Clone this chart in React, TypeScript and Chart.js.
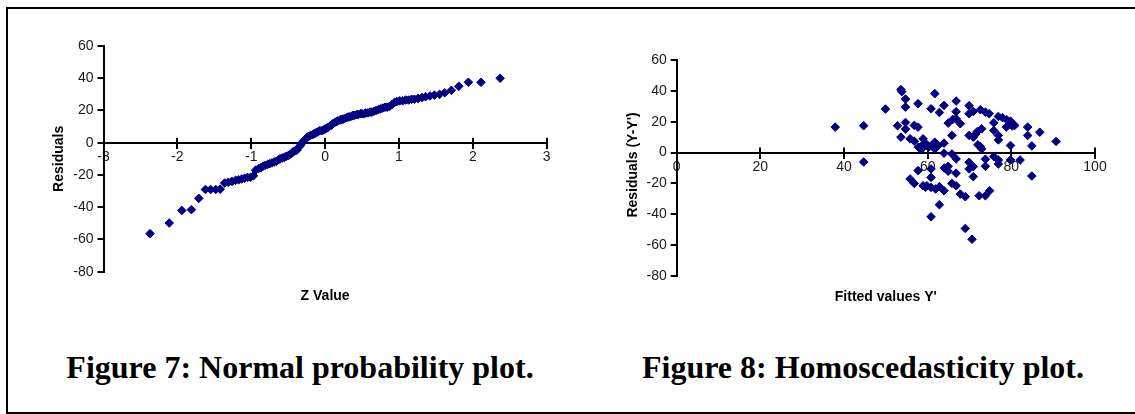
import { useEffect, useRef } from "react";
import { Chart, registerables } from "chart.js";

Chart.register(...registerables);

// ---- Figure 7: normal probability plot ----
const zValues = [
  -2.37, -2.11, -1.94, -1.81, -1.71, -1.62, -1.55, -1.48, -1.42, -1.36,
  -1.31, -1.26, -1.21, -1.17, -1.13, -1.09, -1.05, -1.01, -0.97, -0.94,
  -0.9, -0.87, -0.84, -0.81, -0.78, -0.75, -0.72, -0.69, -0.66, -0.63,
  -0.61, -0.58, -0.55, -0.53, -0.5, -0.48, -0.45, -0.43, -0.4, -0.38,
  -0.36, -0.33, -0.31, -0.29, -0.26, -0.24, -0.22, -0.2, -0.17, -0.15,
  -0.13, -0.11, -0.09, -0.07, -0.04, -0.02, 0, 0.02, 0.04, 0.07,
  0.09, 0.11, 0.13, 0.15, 0.17, 0.2, 0.22, 0.24, 0.26, 0.29,
  0.31, 0.33, 0.36, 0.38, 0.4, 0.43, 0.45, 0.48, 0.5, 0.53,
  0.55, 0.58, 0.61, 0.63, 0.66, 0.69, 0.72, 0.75, 0.78, 0.81,
  0.84, 0.87, 0.9, 0.94, 0.97, 1.01, 1.05, 1.09, 1.13, 1.17,
  1.21, 1.26, 1.31, 1.36, 1.42, 1.48, 1.55, 1.62, 1.71, 1.81,
  1.94, 2.11, 2.37,
];
const zResiduals = [
  -56.4, -49.8, -42, -41.5, -34.5, -29, -29, -29, -28.8, -25,
  -24.5, -24, -23.3, -23, -22.5, -22, -21.5, -21.5, -20.5, -17,
  -16, -15.5, -14.5, -14, -13.5, -13, -12.5, -12, -11.5, -10.5,
  -10, -9.5, -9, -8.5, -8, -7.5, -6.5, -5.5, -5, -4.5,
  -3, -1.5, 0, 1, 2.5, 3.5, 4, 4.5, 5, 5.5,
  6, 6.5, 7, 7.5, 7.5, 8, 8.5, 9, 9.5, 10.5,
  11, 12, 12.5, 13, 13.5, 14, 14.5, 14.5, 15, 15.5,
  16, 16, 16.5, 17, 17, 17.5, 17.5, 18, 18, 18,
  18.5, 18.5, 19, 19, 19.5, 20, 20.5, 21, 21.5, 22,
  22, 22.5, 23.5, 25, 25.5, 26, 26, 26.5, 26.5, 27,
  27, 27.5, 28, 28.5, 29, 29.5, 30, 31, 32.5, 35,
  37.5, 37.5, 40,
];
const zTicks = [-3, -2, -1, 0, 1, 2, 3];

// ---- Figure 8: homoscedasticity plot ----
const fittedValues = [
  37.9, 44.7, 44.7, 49.9, 53.6, 53.8, 54.7, 54.7, 52.8, 54.7,
  54.7, 53.6, 57.7, 56.8, 57.7, 55.8, 56.8, 58.9, 57.8, 58.9,
  59.8, 60.8, 61.7, 61.7, 60.8, 61.7, 62.8, 63.9, 64.9, 63.9,
  63.9, 65.8, 66.8, 66.8, 66.8, 67.8, 65.8, 66.8, 64.9, 64.9,
  66.8, 65.8, 66.8, 69.9, 69.9, 70.9, 69.9, 70.9, 71.9, 72.9,
  72.6, 73.8, 74.7, 72.6, 72.9, 69.9, 69.9, 70.9, 70.9, 67.8,
  69.0, 69.0, 70.6, 73.8, 73.8, 72.3, 73.8, 74.8, 75.8, 75.8,
  76.9, 76.9, 76.9, 77.9, 78.9, 79.8, 78.8, 80.8, 75.8, 76.9,
  76.9, 79.8, 79.8, 82.1, 83.9, 83.9, 86.8, 84.9, 84.9, 90.7,
  55.8, 56.8, 58.9, 59.8, 60.8, 61.9, 62.8, 63.9, 62.8, 60.8,
  57.7, 60.8, 60.8, 58.5, 60.2, 62.5, 66.0, 71.5, 79.5, 64.0,
  72.0, 59.5, 80.2,
];
const fittedResiduals = [
  16.5, 17.4, -6.1, 28.2, 40.8, 39.5, 34.7, 29.5, 17.4, 19.5,
  15.2, 10, 31.7, 17.6, 16.5, 8.9, 7.4, 8.9, 3.5, 5.2,
  5.2, 4.3, 6.7, 2.4, 28.4, 38.2, 26, 30.6, 19.1, 6.1,
  -0.4, 11.1, 33.4, 26.5, 21.9, 18.7, -0.9, -4.1, -8.9, -12.1,
  -13.4, -20, -21.5, 30.4, 25.2, 26.7, 11.1, 10, 13.7, 15.4,
  27.8, 26.2, 25.2, 3.9, 2.4, -6.3, -10.6, -9.1, -15.6, -26.9,
  -28.6, -49.2, -56.2, -4.3, -8.9, -28, -28, -24.7, 19.3, 14.3,
  11.1, 8.2, 23.4, 22.6, 21.3, 20.4, 16.5, 17.6, -2.6, -4.8,
  -7.4, 4.6, -4.8, -4.8, 16.5, 11.1, 13.2, 4.3, -15.2, 7.2,
  -17.1, -20, -21.5, -21.5, -22.6, -23.6, -22.1, -24.7, -33.8, -41.6,
  -11.7, -10.6, -16.1, 2, 3.5, 4.5, 21.5, 12, 18.5, -10,
  5, -22.5, 17.2,
];
const fittedTicks = [0, 20, 40, 60, 80, 100];
const residualTicks = [-80, -60, -40, -20, 0, 20, 40, 60];

const SANS = '"Liberation Sans", Arial, Helvetica, sans-serif';
const SERIF = '"Liberation Serif", "Times New Roman", Times, serif';
const MARK = "#000080";

const axisDecor = {
  id: "axisDecor",
  beforeDatasetsDraw(chart: any) {
    const { ctx, scales } = chart;
    const y0 = scales.y.getPixelForValue(0);
    ctx.save();
    ctx.strokeStyle = "#000";
    ctx.lineWidth = 2;
    scales.x.ticks.forEach((t: any) => {
      const px = Math.round(scales.x.getPixelForValue(t.value));
      ctx.beginPath();
      ctx.moveTo(px, y0 - 5);
      ctx.lineTo(px, y0);
      ctx.stroke();
    });
    ctx.restore();
  },
  afterDraw(chart: any, _args: any, opts: any) {
    const { ctx, chartArea } = chart;
    ctx.save();
    ctx.fillStyle = "#000";
    ctx.font = `bold 14px ${SANS}`;
    ctx.textAlign = "center";
    ctx.textBaseline = "alphabetic";
    ctx.fillText(
      opts.xTitle,
      (chartArea.left + chartArea.right) / 2,
      chartArea.bottom + opts.xTitleGap
    );
    ctx.translate(
      chartArea.left + opts.yTitleOffset,
      (chartArea.top + chartArea.bottom) / 2 + opts.yTitleShift
    );
    ctx.rotate(-Math.PI / 2);
    ctx.textBaseline = "middle";
    ctx.fillText(opts.yTitle, 0, 0);
    ctx.restore();
  },
};

type Props = {
  xs: number[];
  ys: number[];
  xTicks: number[];
  left: number;
  width: number;
  height: number;
  yAxisWidth: number;
  pad: { top: number; right: number; bottom: number };
  xTitle: string;
  yTitle: string;
  xTitleGap: number;
  yTitleOffset: number;
  yTitleShift: number;
};

function Scatter(p: Props) {
  const ref = useRef<HTMLCanvasElement>(null);
  useEffect(() => {
    const data = p.xs.map((x, i) => ({ x, y: p.ys[i] }));
    const tickFont = { family: SANS, size: 14 };
    const chart = new Chart(ref.current as HTMLCanvasElement, {
      type: "scatter",
      data: {
        datasets: [
          {
            data,
            pointStyle: "rectRot",
            pointRadius: 4.3,
            pointBorderWidth: 1,
            backgroundColor: MARK,
            borderColor: MARK,
          },
        ],
      },
      plugins: [axisDecor],
      options: {
        responsive: false,
        animation: false,
        devicePixelRatio: 1,
        layout: {
          padding: { left: 0, top: p.pad.top, right: p.pad.right, bottom: p.pad.bottom },
        },
        plugins: {
          legend: { display: false },
          tooltip: { enabled: false },
          title: { display: false },
          axisDecor: {
            xTitle: p.xTitle,
            yTitle: p.yTitle,
            xTitleGap: p.xTitleGap,
            yTitleOffset: p.yTitleOffset,
            yTitleShift: p.yTitleShift,
          },
        } as any,
        scales: {
          x: {
            type: "linear",
            position: { y: 0 } as any,
            min: Math.min(...p.xTicks),
            max: Math.max(...p.xTicks),
            afterBuildTicks: (s: any) => {
              s.ticks = p.xTicks.map((v) => ({ value: v }));
            },
            grid: {
              drawOnChartArea: false,
              drawTicks: true,
              tickLength: 5,
              color: "#000",
              lineWidth: 2,
            },
            border: { display: true, color: "#000", width: 2 },
            ticks: {
              color: "#1a1a1a",
              font: tickFont,
              padding: 1,
              autoSkip: false,
              maxRotation: 0,
            },
          },
          y: {
            type: "linear",
            position: "left",
            min: Math.min(...residualTicks),
            max: Math.max(...residualTicks),
            afterBuildTicks: (s: any) => {
              s.ticks = residualTicks.map((v) => ({ value: v }));
            },
            afterFit: (s: any) => {
              s.width = p.yAxisWidth;
            },
            grid: {
              drawOnChartArea: false,
              drawTicks: true,
              tickLength: 6,
              color: "#000",
              lineWidth: 2,
            },
            border: { display: true, color: "#000", width: 2 },
            ticks: { color: "#1a1a1a", font: tickFont, padding: 4, autoSkip: false },
          },
        },
      },
    });
    return () => chart.destroy();
  }, []);
  return (
    <canvas
      ref={ref}
      width={p.width}
      height={p.height}
      style={{ position: "absolute", left: p.left, top: 0, width: p.width, height: p.height }}
    />
  );
}

const captionStyle: any = {
  position: "absolute",
  top: 351,
  width: 600,
  textAlign: "center",
  fontFamily: SERIF,
  fontWeight: "bold",
  fontSize: 32,
  lineHeight: "32px",
  color: "#000",
  whiteSpace: "nowrap",
};

export default function App() {
  return (
    <div
      style={{
        position: "absolute",
        left: 0,
        top: 0,
        width: 1135,
        height: 414,
        overflow: "hidden",
        background: "#fff",
      }}
    >
      <div
        style={{
          position: "absolute",
          left: 6,
          top: 7,
          width: 1150,
          height: 407,
          boxSizing: "border-box",
          border: "2px solid #000",
        }}
      />
      <Scatter
        xs={zValues}
        ys={zResiduals}
        xTicks={zTicks}
        left={0}
        width={560}
        height={330}
        yAxisWidth={103.5}
        pad={{ top: 46, right: 13.3, bottom: 58.3 }}
        xTitle="Z Value"
        yTitle="Residuals"
        xTitleGap={28.5}
        yTitleOffset={-44}
        yTitleShift={0}
      />
      <Scatter
        xs={fittedValues}
        ys={fittedResiduals}
        xTicks={fittedTicks}
        left={560}
        width={575}
        height={330}
        yAxisWidth={116.7}
        pad={{ top: 60, right: 40, bottom: 54 }}
        xTitle="Fitted values Y'"
        yTitle="Residuals (Y-Y')"
        xTitleGap={25}
        yTitleOffset={-44}
        yTitleShift={-3}
      />
      <div style={{ ...captionStyle, left: 0 }}>Figure 7: Normal probability plot.</div>
      <div style={{ ...captionStyle, left: 563 }}>Figure 8: Homoscedasticity plot.</div>
    </div>
  );
}
